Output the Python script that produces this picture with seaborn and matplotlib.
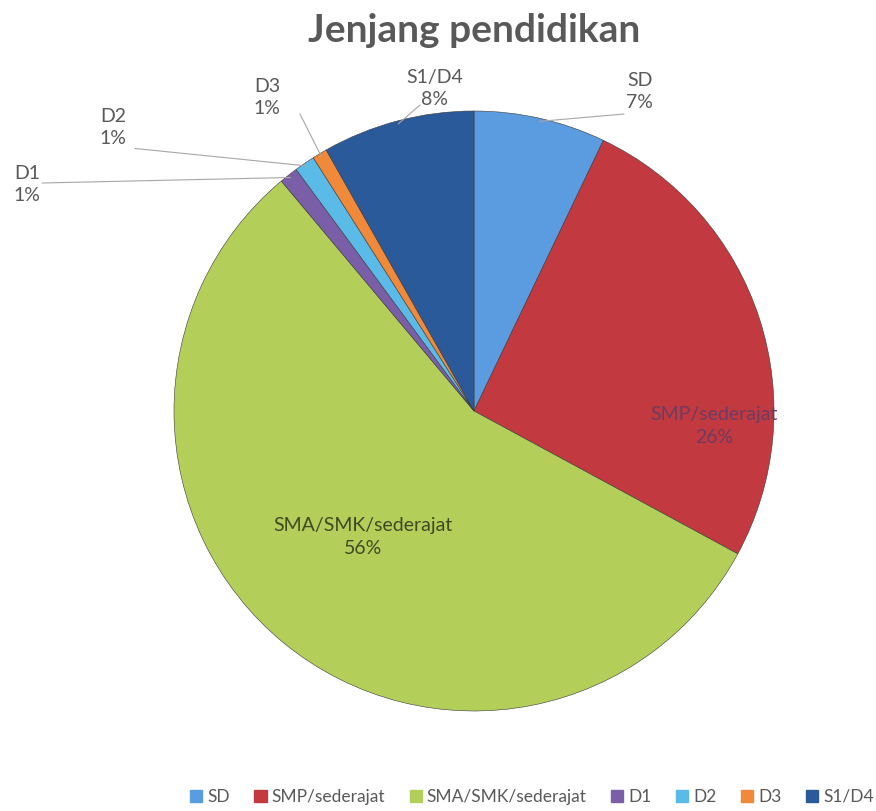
import numpy as np
import matplotlib
matplotlib.use("Agg")
import matplotlib.pyplot as plt
import seaborn as sns

categories = ["SD", "SMP/sederajat", "SMA/SMK/sederajat", "D1", "D2", "D3", "S1/D4"]
values = [7.1, 25.8, 56.0, 1.0, 1.1, 0.8, 8.2]
pct_labels = ["7%", "26%", "56%", "1%", "1%", "1%", "8%"]
colors = ["#5b9be0", "#c23a40", "#b3cf5a", "#7a5fa8", "#5bbbe8", "#f08a3a", "#2b5a9b"]

sns.set_theme(style="white")
plt.rcParams['font.family'] = ['Lato', 'DejaVu Sans']

fig = plt.figure(figsize=(8.76, 8.11), dpi=100)
W, H = 876, 811
cx, cy, R = 474, 411, 300
ax = fig.add_axes([(cx - R) / W, (H - cy - R) / H, 2 * R / W, 2 * R / H])

wedges, _ = ax.pie(values, colors=colors, startangle=90, counterclock=False, radius=1,
                   wedgeprops=dict(edgecolor="#3a3a3a", linewidth=0.4))
ax.set_xlim(-1, 1)
ax.set_ylim(-1, 1)
ax.set_aspect('equal')
ax.axis('off')

# label placement (in axes data units); inside labels have no anchor line
label_pos = [(0.553, 1.065), (0.80, -0.05), (-0.37, -0.42), (-1.49, 0.755),
             (-1.203, 0.945), (-0.69, 1.045), (-0.13, 1.075)]
outside = [True, False, False, True, True, True, True]
text_colors = ["#595959", "#6e3a62", "#3f4a25", "#595959", "#595959", "#595959", "#595959"]
line_ends = [(0.50, 0.99), None, None, (-1.44, 0.76), (-1.13, 0.875), (-0.58, 0.99), (-0.18, 1.02)]

cum = 0
total = sum(values)
for i, (w, v) in enumerate(zip(wedges, values)):
    mid = 90 - 360 * (cum + v / 2) / total
    cum += v
    lx, ly = label_pos[i]
    ax.text(lx, ly, categories[i] + "\n" + pct_labels[i], ha='center', va='center',
            fontsize=14, color=text_colors[i], linespacing=1.4, clip_on=False)
    if outside[i]:
        a = np.deg2rad(mid)
        ex, ey = line_ends[i]
        ax.plot([np.cos(a) * 0.99, ex], [np.sin(a) * 0.99, ey], color="#a6a6a6", lw=0.8,
                clip_on=False)

fig.text(cx / W, 1 - 30 / H, "Jenjang pendidikan", ha='center', va='center',
         fontsize=28, fontweight='bold', color="#595959")

handles = [plt.Rectangle((0, 0), 1, 1, color=c) for c in colors]
fig.legend(handles, categories, loc='center', bbox_to_anchor=(532 / W, 1 - 797 / H),
           ncol=7, frameon=False, fontsize=12.5, handlelength=0.7, handleheight=0.7,
           handletextpad=0.3, columnspacing=1.4, labelcolor="#595959")

fig.savefig("out.png", dpi=100, facecolor="white")
